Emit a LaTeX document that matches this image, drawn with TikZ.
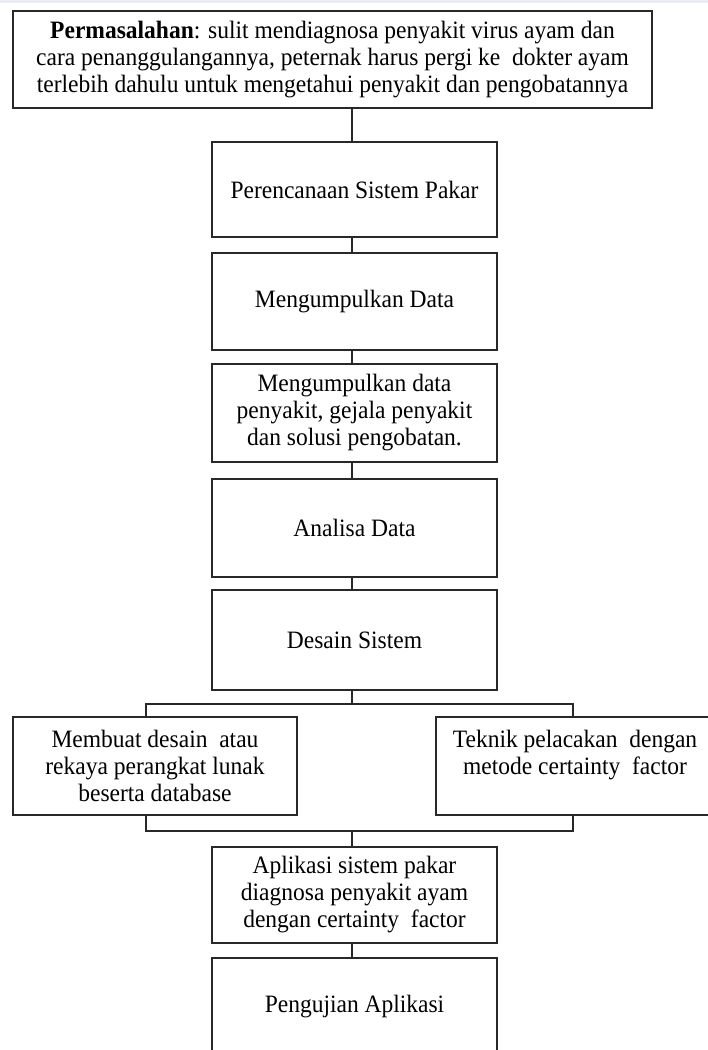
\documentclass[tikz,border=0pt]{standalone}
\usepackage{fontspec}
\setmainfont{Liberation Serif}[FakeStretch=0.94]
\definecolor{band}{RGB}{233,238,245}
\definecolor{ink}{RGB}{40,40,40}
\begin{document}
\begin{tikzpicture}[x=1pt,y=-1pt,
  box/.style={draw=ink, line width=1.2pt, rectangle, inner sep=0pt, outer sep=0pt,
    align=center, font=\fontsize{25}{27}\selectfont, text=black},
  link/.style={draw=ink, line width=1.2pt}]
\useasboundingbox (0,0) rectangle (708,1050);
\clip (0,0) rectangle (708,1050);
\fill[band] (0,0) rectangle (708,3);

\node[box, minimum width=639pt, minimum height=97pt] (prob) at (332.5,59.5)
  {\textbf{Permasalahan}: sulit mendiagnosa penyakit virus ayam dan\\
   cara penanggulangannya, peternak harus pergi ke \ dokter ayam\\
   terlebih dahulu untuk mengetahui penyakit dan pengobatannya};
\node[box, minimum width=285pt, minimum height=95pt] (plan) at (354.5,189.5)
  {Perencanaan Sistem Pakar};
\node[box, minimum width=285pt, minimum height=97pt] (mdata) at (354.5,301.5)
  {Mengumpulkan Data};
\node[box, minimum width=285pt, minimum height=98pt] (mdet) at (354.5,413)
  {Mengumpulkan data\\penyakit, gejala penyakit\\dan solusi pengobatan.};
\node[box, minimum width=285pt, minimum height=98pt] (anal) at (354.5,528)
  {Analisa Data};
\node[box, minimum width=285pt, minimum height=100pt] (des) at (354.5,640)
  {Desain Sistem};
\node[box, minimum width=284pt, minimum height=98pt] (left) at (155,766)
  {Membuat desain \ atau\\rekaya perangkat lunak\\beserta database};
\node[box, minimum width=278pt, minimum height=98pt] (right) at (575,766)
  {Teknik pelacakan \ dengan\\metode certainty \ factor\\\mbox{}};
\node[box, minimum width=285pt, minimum height=96pt] (app) at (354.5,895)
  {Aplikasi sistem pakar\\diagnosa penyakit ayam\\dengan certainty \ factor};
\node[box, minimum width=285pt, minimum height=98pt] (test) at (354.5,1007)
  {Pengujian Aplikasi};

\coordinate (spine) at (352,0);
\coordinate (br1) at (146,704);
\coordinate (br2) at (573,704);
\coordinate (lb1) at (146,831);
\coordinate (lb2) at (573,831);

\draw[link] (prob.south -| spine) -- (plan.north -| spine);
\draw[link] (plan.south -| spine) -- (mdata.north -| spine);
\draw[link] (mdata.south -| spine) -- (mdet.north -| spine);
\draw[link] (mdet.south -| spine) -- (anal.north -| spine);
\draw[link] (anal.south -| spine) -- (des.north -| spine);
\draw[link] (des.south -| spine) -- (spine |- br1);
\draw[link] (br1 |- left.north) -- (br1) -- (br2) -- (br2 |- right.north);
\draw[link] (lb1 |- left.south) -- (lb1) -- (lb2) -- (lb2 |- right.south);
\draw[link] (spine |- lb1) -- (app.north -| spine);
\draw[link] (app.south -| spine) -- (test.north -| spine);
\end{tikzpicture}
\end{document}
